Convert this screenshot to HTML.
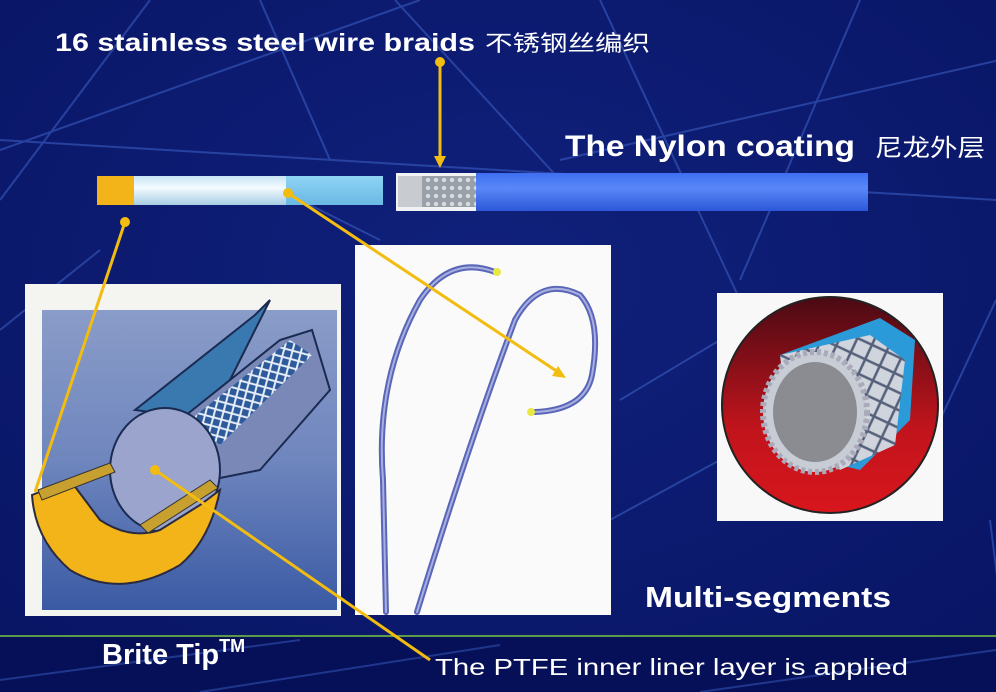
<!DOCTYPE html>
<html><head><meta charset="utf-8"><style>
html,body{margin:0;padding:0;background:#0a1668;}
svg{display:block}
text{font-family:"Liberation Sans","Noto Sans CJK SC",sans-serif;fill:#fff;}
</style></head><body>
<svg width="996" height="692" viewBox="0 0 996 692" xmlns="http://www.w3.org/2000/svg">
<defs>
<radialGradient id="bg" cx="0.5" cy="0.4" r="0.8"><stop offset="0" stop-color="#10217c"/><stop offset="1" stop-color="#081463"/></radialGradient>
<linearGradient id="red" x1="0" y1="0" x2="0" y2="1"><stop offset="0" stop-color="#4a0a14"/><stop offset="0.6" stop-color="#c0141c"/><stop offset="1" stop-color="#d8161c"/></linearGradient>
<linearGradient id="pale" x1="0" y1="0" x2="0" y2="1"><stop offset="0" stop-color="#c8e4f4"/><stop offset="0.4" stop-color="#f4fbff"/><stop offset="1" stop-color="#a8cce4"/></linearGradient>
<linearGradient id="lb" x1="0" y1="0" x2="0" y2="1"><stop offset="0" stop-color="#8fd4f4"/><stop offset="1" stop-color="#6ab8e4"/></linearGradient>
<linearGradient id="bl" x1="0" y1="0" x2="0" y2="1"><stop offset="0" stop-color="#3e6ef0"/><stop offset="0.4" stop-color="#5a88f8"/><stop offset="1" stop-color="#2c58d8"/></linearGradient>
<linearGradient id="pic" x1="0" y1="0" x2="0" y2="1"><stop offset="0" stop-color="#8a9cc8"/><stop offset="0.5" stop-color="#6f86be"/><stop offset="1" stop-color="#3a5aa4"/></linearGradient>
<pattern id="mesh" width="8" height="8" patternUnits="userSpaceOnUse"><rect width="8" height="8" fill="#9aa0a8"/><circle cx="4" cy="4" r="2.2" fill="#d8dce0"/></pattern>
<pattern id="braid" width="12" height="12" patternUnits="userSpaceOnUse" patternTransform="rotate(-30)"><rect width="12" height="12" fill="#2c5a9a"/><path d="M0 0L12 12M12 0L0 12" stroke="#e8eef8" stroke-width="2"/></pattern>
<pattern id="mesh2" width="16" height="16" patternUnits="userSpaceOnUse" patternTransform="rotate(25)"><rect width="16" height="16" fill="#d0d4dc"/><path d="M0 8H16M8 0V16" stroke="#55607a" stroke-width="2.5"/></pattern>
</defs>
<rect width="996" height="692" fill="url(#bg)"/>
<g stroke="#3a5cc0" stroke-width="2" opacity="0.6" fill="none">
<path d="M0 150 L420 0"/><path d="M260 0 L330 160"/><path d="M150 0 L0 200"/><path d="M395 0 L560 180"/>
<path d="M600 0 L740 300"/><path d="M860 0 L740 280"/><path d="M0 140 L996 200"/><path d="M560 160 L1000 60"/>
<path d="M0 330 L100 250"/><path d="M996 300 L940 420"/><path d="M300 200 L380 240"/><path d="M620 400 L720 340"/>
<path d="M990 520 L1000 600"/><path d="M610 520 L720 460"/>
</g>
<rect x="0" y="636" width="996" height="56" fill="#061058"/>
<line x1="0" y1="636" x2="996" y2="636" stroke="#5a9a48" stroke-width="2"/>
<g stroke="#3050b0" stroke-width="2" opacity="0.6"><path d="M0 680 L300 640"/><path d="M200 692 L500 645"/><path d="M700 692 L996 650"/></g>

<rect x="97" y="176" width="37" height="29" fill="#f2b418"/>
<rect x="134" y="176" width="152" height="29" fill="url(#pale)"/>
<rect x="286" y="176" width="97" height="29" fill="url(#lb)"/>
<rect x="396" y="173" width="80" height="38" fill="#f0f2f4"/>
<rect x="398" y="176" width="24" height="31" fill="#c8ccd0"/>
<rect x="422" y="176" width="54" height="31" fill="url(#mesh)"/>
<rect x="476" y="173" width="392" height="38" fill="url(#bl)"/>

<rect x="25" y="284" width="316" height="332" fill="#f4f4f0"/>
<rect x="42" y="310" width="295" height="300" fill="url(#pic)"/>
<path d="M135 410 L255 315 L270 300 L210 420 Z" fill="#3a78b0" stroke="#1a2a50" stroke-width="2"/>
<path d="M180 420 L280 340 L312 330 L330 390 L260 470 L210 480 Z" fill="#7a88b8" stroke="#1a2a50" stroke-width="2"/>
<path d="M190 420 L290 340 L312 355 L220 445 Z" fill="url(#braid)"/>
<ellipse cx="165" cy="470" rx="55" ry="62" fill="#9aa4cc" stroke="#1a2a50" stroke-width="2"/>
<path d="M32 495 L70 480 L100 520 Q130 540 160 530 L200 505 L220 490 Q210 540 180 565 Q120 600 70 570 Q35 540 32 495 Z" fill="#f2b418" stroke="#2a2a40" stroke-width="2"/>
<path d="M38 490 L110 463 L115 472 L42 500Z" fill="#c8a030" stroke="#333" stroke-width="1"/>
<path d="M140 525 L210 480 L218 488 L148 533Z" fill="#c8a030" stroke="#333" stroke-width="1"/>

<rect x="355" y="245" width="256" height="370" fill="#fafafa"/>
<g fill="none" stroke-linecap="round">
<path d="M386 612 L383 480 Q375 380 420 300 Q450 255 495 272" stroke="#5a66b8" stroke-width="6"/>
<path d="M417 612 Q470 440 515 320 Q540 275 580 295 Q602 320 592 375 Q585 410 535 412" stroke="#5a66b8" stroke-width="6"/>
<path d="M386 612 L383 480 Q375 380 420 300 Q450 255 495 272" stroke="#a8b0e0" stroke-width="2"/>
<path d="M417 612 Q470 440 515 320 Q540 275 580 295 Q602 320 592 375 Q585 410 535 412" stroke="#a8b0e0" stroke-width="2"/>
</g>
<circle cx="497" cy="272" r="4" fill="#e8e840"/><circle cx="531" cy="412" r="4" fill="#e8e840"/>

<rect x="717" y="293" width="226" height="228" fill="#f8f8f8"/>
<circle cx="830" cy="405" r="108" fill="url(#red)" stroke="#222" stroke-width="2"/>
<path d="M780 355 L880 318 L915 340 L910 420 L860 470 L800 455 Z" fill="#2a9ad8"/>
<path d="M780 355 L870 335 L905 360 L895 445 L840 470 L790 440 Z" fill="url(#mesh2)"/>
<ellipse cx="815" cy="412" rx="52" ry="60" fill="#c8ccd4" stroke="#aab" stroke-width="6" stroke-dasharray="4 3"/>
<ellipse cx="815" cy="412" rx="42" ry="50" fill="#8a8c92"/>

<g stroke="#f2bc10" stroke-width="3" fill="#f2bc10">
<line x1="440" y1="62" x2="440" y2="158"/>
<polygon points="434,156 446,156 440,168" stroke="none"/>
<line x1="125" y1="222" x2="35" y2="492"/>
<circle cx="125" cy="222" r="5" stroke="none"/>
<line x1="288" y1="193" x2="558" y2="372"/>
<circle cx="288" cy="193" r="5" stroke="none"/>
<polygon points="566,378 552,376 558,366" stroke="none"/>
<line x1="155" y1="470" x2="430" y2="660"/>
<circle cx="155" cy="470" r="5" stroke="none"/>
<circle cx="440" cy="62" r="5" stroke="none"/>
</g>

<text x="55" y="51" font-size="25" font-weight="bold" textLength="420" lengthAdjust="spacingAndGlyphs">16 stainless steel wire braids</text>
<text x="485" y="51" font-size="22" textLength="165" lengthAdjust="spacingAndGlyphs">不锈钢丝编织</text>
<text x="565" y="156" font-size="30" font-weight="bold" textLength="290" lengthAdjust="spacingAndGlyphs">The Nylon coating</text>
<text x="875" y="156" font-size="24" textLength="110" lengthAdjust="spacingAndGlyphs">尼龙外层</text>
<text x="645" y="607" font-size="29" font-weight="bold" textLength="246" lengthAdjust="spacingAndGlyphs">Multi-segments</text>
<text x="102" y="664" font-size="29" font-weight="bold">Brite Tip<tspan font-size="18" dy="-12">TM</tspan></text>
<text x="435" y="675" font-size="23" textLength="473" lengthAdjust="spacingAndGlyphs">The PTFE inner liner layer is applied</text>
</svg>
</body></html>
